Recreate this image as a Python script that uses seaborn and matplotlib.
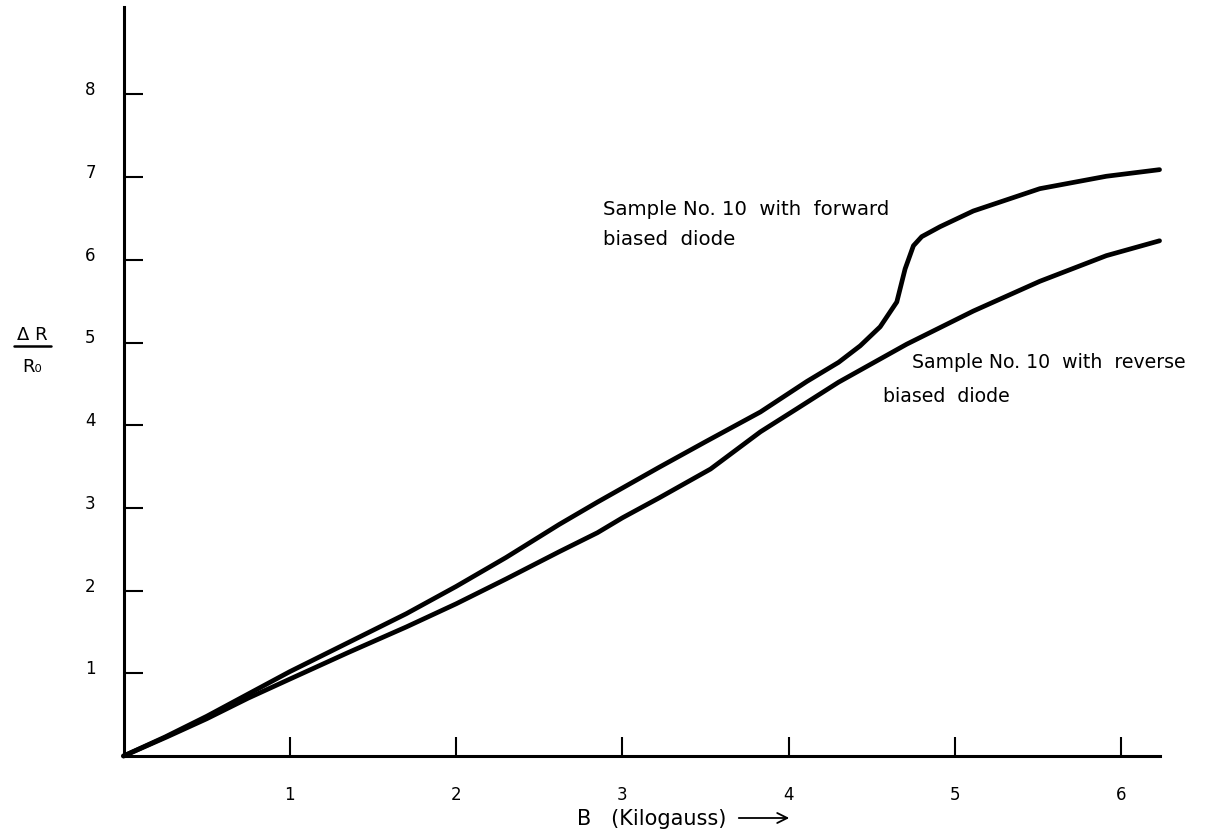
import numpy as np
import pandas as pd
import seaborn as sns
import matplotlib.pyplot as plt
from matplotlib.lines import Line2D
from matplotlib.transforms import ScaledTranslation

# Magnetoresistance of sample No. 10, forward vs reverse biased diode
b_forward = [0, 0.25, 0.5, 0.75, 1.0, 1.35, 1.7, 2.0, 2.3, 2.62, 2.85, 3.22, 3.5,
             3.83, 4.11, 4.3, 4.43, 4.55, 4.65, 4.70, 4.75, 4.80, 4.91, 5.11,
             5.51, 5.91, 6.23]
dr_forward = [0, 0.23, 0.48, 0.75, 1.02, 1.37, 1.72, 2.05, 2.40, 2.80, 3.07, 3.49,
              3.80, 4.16, 4.53, 4.76, 4.96, 5.19, 5.49, 5.89, 6.17, 6.28, 6.40,
              6.59, 6.86, 7.01, 7.09]

b_reverse = [0, 0.26, 0.5, 0.75, 1.0, 1.35, 1.7, 2.0, 2.3, 2.62, 2.85, 3.0, 3.22,
             3.53, 3.83, 4.05, 4.3, 4.71, 5.11, 5.51, 5.91, 6.23]
dr_reverse = [0, 0.23, 0.45, 0.70, 0.93, 1.25, 1.56, 1.84, 2.14, 2.47, 2.70, 2.88,
              3.12, 3.47, 3.92, 4.20, 4.52, 4.98, 5.38, 5.74, 6.05, 6.23]

x_ticks = [1, 2, 3, 4, 5, 6]
y_ticks = [1, 2, 3, 4, 5, 6, 7, 8]

label_forward = ["Sample No. 10  with  forward", "biased  diode"]
label_reverse = ["Sample No. 10  with  reverse", "biased  diode"]

sns.set_theme(style="white")
plt.rcParams["font.family"] = ["DejaVu Sans"]
plt.rcParams["text.color"] = "black"

W, H = 1206, 837
fig = plt.figure(figsize=(W / 100, H / 100), dpi=100)
ax = fig.add_axes([123.5 / W, (H - 757) / H, (1160 - 123.5) / W, (757 - 8) / H])

df_f = pd.DataFrame({"B": b_forward, "dR": dr_forward})
df_r = pd.DataFrame({"B": b_reverse, "dR": dr_reverse})
for d in (df_f, df_r):
    sns.lineplot(data=d, x="B", y="dR", ax=ax, color="black", linewidth=3.4,
                 estimator=None, sort=False, clip_on=False,
                 solid_capstyle="round", solid_joinstyle="round")

ax.set_xlim(0, (1160 - 123.5) / 166.3)
ax.set_ylim(0, (757 - 8) / 82.7)
ax.set_xticks(x_ticks)
ax.set_yticks(y_ticks)
ax.set_xticklabels([str(v) for v in x_ticks])
ax.set_yticklabels([str(v) for v in y_ticks])
ax.set_xlabel("")
ax.set_ylabel("")

for s in ("top", "right"):
    ax.spines[s].set_visible(False)
for s in ("left", "bottom"):
    ax.spines[s].set_linewidth(2.2)
    ax.spines[s].set_color("black")

ax.tick_params(axis="both", direction="in", length=14, width=1.5,
               colors="black", labelcolor="black", labelsize=12,
               bottom=True, left=True)
ax.tick_params(axis="x", pad=21)
ax.tick_params(axis="y", pad=20)
shift = ScaledTranslation(0, 0.07, fig.dpi_scale_trans)
for lab in ax.get_yticklabels():
    lab.set_transform(lab.get_transform() + shift)

# curve annotations
for txt, x, y, fs in ((label_forward[0], 603, 215, 14.2),
                      (label_forward[1], 603, 245, 14.2),
                      (label_reverse[0], 912, 368, 13.6),
                      (label_reverse[1], 883, 402, 13.6)):
    fig.text(x / W, (H - y) / H, txt, fontsize=fs, va="baseline", ha="left",
             color="black")

# y axis label as a fraction
fig.text(32 / W, (H - 335) / H, "Δ R", fontsize=13, ha="center", va="center",
         color="black")
fig.add_artist(Line2D([14 / W, 51 / W], [(H - 347) / H] * 2, color="black", lw=1.8))
fig.text(32 / W, (H - 367) / H, "R₀", fontsize=13, ha="center", va="center",
         color="black")

# x axis label with arrow
fig.text(577 / W, (H - 825) / H, "B   (Kilogauss)", fontsize=15, ha="left",
         va="baseline", color="black")
ax.annotate("", xy=(792 / W, (H - 819) / H), xytext=(736 / W, (H - 819) / H),
            xycoords="figure fraction", textcoords="figure fraction",
            arrowprops=dict(arrowstyle="->,head_length=0.6,head_width=0.3",
                            lw=1.3, color="black"))

fig.savefig("out.png", dpi=100, facecolor="white")
